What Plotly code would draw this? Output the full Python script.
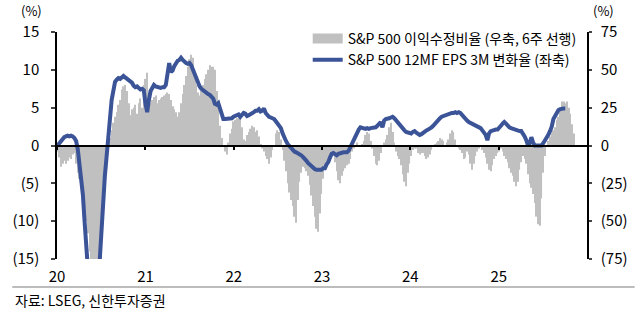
import pandas as pd
import plotly.graph_objects as go

# 이익수정비율 (right axis, %), weekly, 6-week lead
revision_ratio = [
    -4, -8, -14, -12, -10, -12, -10, -8, -9, -6, -5, -12, -18, -22, -28, -36, -45, -50, -58, -70,
    -80, -85, -85, -85, -85, -82, -78, -40, -20, -10, -3, 5, 10, 15, 19, 22, 27, 30, 37, 39,
    40, 36, 28, 20, 24, 25, 27, 21, 28, 31, 25, 40, 44,
    48, 25, 28, 30, 32, 33, 28, 30, 31, 32, 33, 34, 35, 34, 30, 26, 24, 22, 19, 22, 28, 34,
    40, 46, 52, 57, 60, 58, 47, 40, 35, 33, 36, 40, 44, 47, 50, 53, 52, 52, 50, 36, 24, 13,
    5, -1, -4, -6, 2, 8, 11, 16,
    17, 18, 19, 18, 12, 4, 3, 7, 9, 11, 13, 12, 9, 10, 6, 1, -2, -4, -7, -9, -12, -8, -3, 0,
    8, 10, 9, 4, -3, -10, -17, -25, -31, -36, -40, -47, -51, -36, -24, -18, -14, -15, -17, -20,
    -26, -33, -40, -47, -55, -57, -45, -32,
    -22, -16, -14, -12, -10, -7, -6, -11, -17, -23, -25, -20, -17, -15, -13, -12, -9, -4, -2, 0,
    2, 0, -1, 1, 3, 7, 9, 8, 3, -2, -7, -12, -13, -10, -5, -1, 2, 4, 7, 12, 15, 9, 2, -4,
    -7, -9, -13, -19, -24, -27, -18, -12,
    -7, -3, -2, -2, -5, -6, -5, -5, -7, -9, -8, -6, -3, -1, 1, 2, 3, 5, 4, 3, 0, 2, 4, 8,
    10, 9, 4, 0, -2, -3, -5, -9, -8, -4, -6, -12, -16, -12, -7, -4, -2, -1, -3, -5, -8, -12,
    -16, -17, -13, -9, -7, -5,
    -4, -2, -4, -7, -9, -11, -15, -18, -20, -24, -27, -24, -16, -11, -7, -9, -12, -19, -25, -28,
    -32, -38, -47, -52, -53, -35, -18, -7, 0, 3, 6, 8, 10, 12, 17, 19, 23, 29, 29, 28,
    29, 25, 21, 14, 8,
]

# 12MF EPS 3M 변화율 (left axis, %), weekly
eps_change = [
    0.0, 0.3, 0.6, 0.9, 1.1, 1.2, 1.3, 1.2, 1.3, 1.2, 1.0, 0.6, -0.5, -2.5, -4.5, -6.5, -10, -15, -19, -23,
    -25, -26, -25, -23, -19, -15, -11, -7, -4, -1.5, 0.5, 3.5, 6.0, 7.5, 8.4, 8.7, 8.9, 8.8, 9.0, 9.2,
    9.0, 8.8, 8.6, 8.5, 8.3, 7.9, 7.7, 7.8, 7.6, 7.4, 7.5, 7.3, 5.5,
    4.4, 6.0, 7.2, 7.6, 8.0, 7.8, 7.7, 7.7, 7.6, 7.7, 7.7, 8.0, 9.3, 10.9, 9.7, 9.9, 10.5, 10.9, 11.2, 11.3,
    11.6, 11.3, 11.0, 10.9, 10.8, 10.9, 10.6, 10.0, 9.5, 9.0, 8.3, 7.8, 7.5, 7.3, 7.1, 7.0, 6.8, 6.7, 6.5, 6.2,
    5.5, 5.4, 5.6, 4.8, 3.9, 3.5, 3.5, 3.5, 3.5, 3.5, 3.6, 3.8,
    3.9, 4.0, 4.1, 3.8, 4.0, 4.3, 4.2, 3.9, 4.0, 4.1, 4.3, 4.4, 4.6, 4.6, 4.8, 4.5, 4.6, 4.9, 4.3, 4.0,
    3.8, 3.7, 3.6, 3.5, 3.2, 2.9, 2.6, 2.3, 1.6, 1.0, 0.6, 0.2, -0.1, -0.4, -0.6, -0.8, -0.9, -1.0, -1.2, -1.3,
    -1.5, -1.7, -2.0, -2.3, -2.5, -2.8, -3.0, -3.1, -3.2, -3.2, -3.3, -3.2,
    -3.0, -3.0, -2.5, -2.2, -1.6, -1.1, -1.0, -1.2, -1.3, -1.1, -1.0, -1.0, -0.9, -0.9, -0.9, -0.7, -0.2, 0.3, 0.9, 1.3,
    1.7, 2.1, 2.4, 2.3, 2.3, 2.2, 2.3, 2.2, 2.3, 2.3, 2.3, 2.4, 2.6, 2.9, 3.1, 2.4, 3.3, 3.5, 3.5, 3.6,
    3.7, 3.8, 3.6, 3.3, 3.0, 2.8, 2.5, 2.2, 2.0, 1.8, 1.7, 1.7,
    1.6, 1.8, 1.9, 1.7, 1.5, 1.4, 1.5, 1.7, 1.9, 2.0, 2.1, 2.2, 2.4, 2.6, 2.9, 3.2, 3.4, 3.6, 3.8, 3.9,
    4.0, 4.1, 4.2, 4.3, 4.3, 4.3, 4.4, 4.3, 4.4, 4.3, 4.0, 3.8, 3.6, 3.3, 3.1, 3.0, 2.9, 2.8, 2.7, 2.6,
    2.4, 2.3, 2.0, 1.7, 1.4, 0.7, 1.6, 1.9, 2.0, 2.0, 2.1, 2.1,
    2.3, 2.6, 2.9, 3.1, 2.9, 2.6, 2.4, 2.3, 2.2, 2.1, 2.1, 2.0, 1.9, 1.9, 1.6, 1.2, 0.7, 0.0, 0.3, 1.1,
    0.4, 0.0, 0.0, 0.0, 0.0, 0.0, 0.3, 0.6, 0.9, 1.4, 1.9, 2.5, 3.5, 4.0, 4.4, 4.7, 4.8, 4.9, 4.9, 4.9,
]

year_ticks = ["2020-01-01", "2021-01-01", "2022-01-01", "2023-01-01", "2024-01-01", "2025-01-01"]
year_labels = ["20", "21", "22", "23", "24", "25"]
left_vals = [15, 10, 5, 0, -5, -10, -15]
left_text = ["15", "10", "5", "0", "(5)", "(10)", "(15)"]
right_vals = [75, 50, 25, 0, -25, -50, -75]
right_text = ["75", "50", "25", "0", "(25)", "(50)", "(75)"]

bar_name = "S&P 500 이익수정비율 (우축, 6주 선행)"
line_name = "S&P 500 12MF EPS 3M 변화율 (좌축)"

bar_dates = pd.date_range("2020-01-03", periods=len(revision_ratio), freq="7D")
line_dates = pd.date_range("2020-01-03", periods=len(eps_change), freq="7D")

FONT = "Noto Sans CJK KR"
BAR_COLOR = "#C0C0C0"
LINE_COLOR = "#3B5397"
XR = ["2020-01-01", "2026-01-01"]

fig = go.Figure()
fig.add_trace(go.Bar(x=bar_dates, y=revision_ratio, marker_color=BAR_COLOR, marker_line_width=0,
                     name=bar_name, showlegend=False, xaxis="x", yaxis="y"))
# legend-only swatch for the bars
fig.add_trace(go.Scatter(x=[None], y=[None], mode="lines", line=dict(color=BAR_COLOR, width=10),
                         name=bar_name, xaxis="x", yaxis="y"))
fig.add_trace(go.Scatter(x=line_dates, y=eps_change, mode="lines", name=line_name,
                         line=dict(color=LINE_COLOR, width=4), xaxis="x2", yaxis="y2"))

fig.update_layout(
    width=640, height=324,
    margin=dict(l=46, r=49, t=32, b=65),
    paper_bgcolor="white", plot_bgcolor="white",
    font=dict(family=FONT, size=14, color="#000000"),
    bargap=0.35,
    showlegend=True,
    legend=dict(x=0.99, xanchor="right", y=1.04, yanchor="top", bgcolor="rgba(0,0,0,0)",
                font=dict(size=14), tracegroupgap=0, itemwidth=30),
    xaxis=dict(range=XR, type="date", tickvals=year_ticks, ticktext=year_labels, showline=False,
               ticks="", showgrid=False, zeroline=False, ticklabelstandoff=7,
               tickfont=dict(size=15)),
    xaxis2=dict(range=XR, type="date", overlaying="x", anchor="free", position=0.5, side="bottom",
                showline=True, linecolor="#000000", linewidth=1.5, ticks="outside", ticklen=4,
                tickwidth=1.5, tickcolor="#000000", tickvals=year_ticks, showticklabels=False,
                showgrid=False, zeroline=False),
    yaxis=dict(range=[-75, 75], side="right", tickvals=right_vals, ticktext=right_text,
               showline=True, linecolor="#000000", linewidth=1.5, ticks="outside", ticklen=3,
               tickwidth=1.5, showgrid=False, zeroline=False, ticklabelstandoff=6,
               tickfont=dict(size=15)),
    yaxis2=dict(range=[-15, 15], side="left", overlaying="y", anchor="x", tickvals=left_vals,
                ticktext=left_text, showline=True, linecolor="#000000", linewidth=1.5,
                ticks="outside", ticklen=4, tickwidth=1.5, showgrid=False, zeroline=False,
                ticklabelstandoff=9, tickfont=dict(size=15)),
    annotations=[
        dict(text="(%)", xref="paper", yref="paper", x=-26 / 545, y=1 + 21 / 227, xanchor="center",
             yanchor="middle", showarrow=False, font=dict(size=13)),
        dict(text="(%)", xref="paper", yref="paper", x=562 / 545, y=1 + 21 / 227, xanchor="center",
             yanchor="middle", showarrow=False, font=dict(size=13)),
        dict(text="자료: LSEG, 신한투자증권", xref="paper", yref="paper", x=-45 / 545, y=-0.18,
             xanchor="left", yanchor="middle", showarrow=False, font=dict(size=14)),
    ],
    shapes=[
        dict(type="line", xref="paper", yref="paper", x0=-46 / 545, x1=594 / 545,
             y0=-28 / 227, y1=-28 / 227, line=dict(color="#A6A6A6", width=1.5)),
    ],
)

fig.write_html("out.html")
